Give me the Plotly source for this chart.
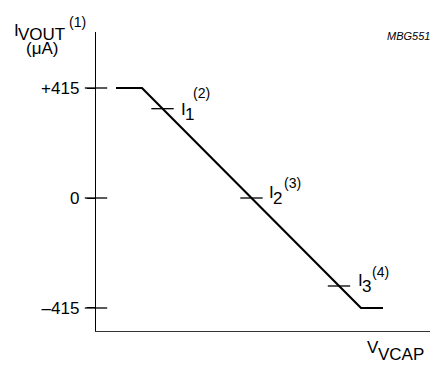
import plotly.graph_objects as go

# ---- data ----
v_points = [20, 46, 265, 287]          # V_VCAP (arbitrary units)
i_points = [415, 415, -415, -415]      # I_VOUT (uA)

marker_v = [66.5, 155.5, 243]
marker_i = [337, 0, -332]

y_tickvals = [415, 0, -415]
y_ticktext = ["+415", "0", "\u2013415"]

# ---- layout constants ----
W, H = 432, 365
L, R, T, B = 96, 2, 32, 34
PW, PH = W - L - R, H - T - B
XR = [0, 334]
YR = [-501.8, 626.3]
FONT = "Liberation Sans, Arial, Helvetica, sans-serif"

fig = go.Figure()

fig.add_trace(go.Scatter(x=v_points, y=i_points, mode="lines",
                         line=dict(color="black", width=2.2),
                         hoverinfo="skip", showlegend=False))

fig.add_trace(go.Scatter(x=marker_v, y=marker_i, mode="markers",
                         marker=dict(symbol="line-ew", size=16,
                                     line=dict(color="black", width=1.3)),
                         hoverinfo="skip", showlegend=False, cliponaxis=False))

# y-axis crossing ticks
fig.add_trace(go.Scatter(x=[0] * len(y_tickvals), y=y_tickvals, mode="markers",
                         marker=dict(symbol="line-ew", size=16,
                                     line=dict(color="black", width=1.3)),
                         hoverinfo="skip", showlegend=False, cliponaxis=False))


def P(px, py):
    return (px - L) / PW, (H - B - py) / PH


texts = [
    # text, left px, center py, size
    ("I", 13, 30.5, 17),
    ("VOUT", 17, 34, 17),
    ("(1)", 67.5, 22, 14),
    ("(\u03bcA)", 25, 48.5, 17),
    ("I", 180, 109, 17),
    ("1", 183.5, 114.5, 17),
    ("(2)", 191.5, 92.5, 14),
    ("I", 268, 192.5, 17),
    ("2", 271.5, 198, 17),
    ("(3)", 283, 183, 14),
    ("I", 357, 280.5, 17),
    ("3", 360.5, 286.5, 17),
    ("(4)", 370.5, 272, 14),
    ("V", 366, 347, 17),
    ("VCAP", 377, 354, 17),
]

anns = []
for t, px, py, s in texts:
    x, y = P(px, py)
    anns.append(dict(text=t, x=x, y=y, xref="paper", yref="paper",
                     xanchor="left", yanchor="middle", showarrow=False,
                     borderpad=0,
                     font=dict(family=FONT, size=s, color="black")))

mx, my = P(431, 35.5)
anns.append(dict(text="MBG551", x=mx, y=my, xref="paper", yref="paper",
                 xanchor="right", yanchor="middle", showarrow=False, borderpad=0,
                 font=dict(family=FONT, size=11, color="black", style="italic")))

fig.update_layout(
    width=W, height=H,
    margin=dict(l=L, r=R, t=T, b=B, pad=0),
    paper_bgcolor="white", plot_bgcolor="white",
    font=dict(family=FONT, color="black"),
    annotations=anns,
    xaxis=dict(range=XR, showgrid=False, zeroline=False, showticklabels=False,
               ticks="", showline=True, linecolor="#333333", linewidth=1.4,
               fixedrange=True),
    yaxis=dict(range=YR, showgrid=False, zeroline=False,
               tickvals=y_tickvals, ticktext=y_ticktext,
               ticks="outside", ticklen=8, tickwidth=1.3, tickcolor="black",
               tickfont=dict(family=FONT, size=17, color="black"),
               ticklabelstandoff=4,
               showline=True, linecolor="black", linewidth=1.4,
               fixedrange=True),
)

fig.write_html("out.html", config={"displayModeBar": False},
               post_script="document.body.style.margin='0';"
                           "document.body.style.overflow='hidden';")
